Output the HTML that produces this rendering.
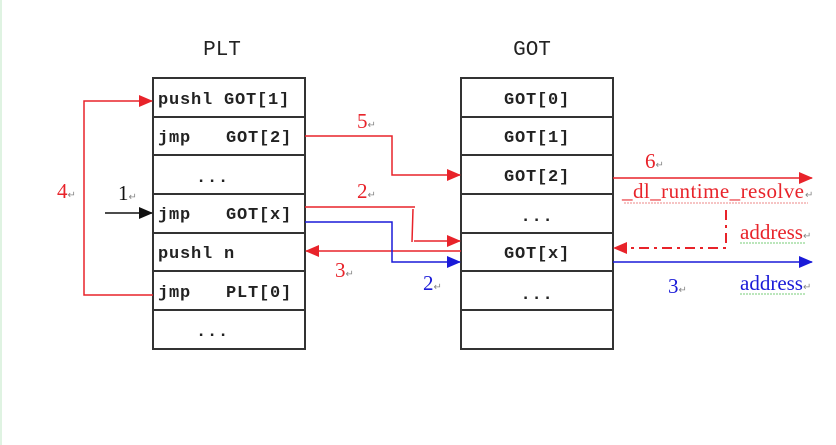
<!DOCTYPE html>
<html><head><meta charset="utf-8"><style>
html,body{margin:0;padding:0;background:#fff;width:836px;height:445px;overflow:hidden}
svg{display:block}
.c{font-family:"Liberation Mono",monospace;font-weight:bold;font-size:17px;letter-spacing:0.8px;fill:#222}
.t{font-family:"Liberation Mono",monospace;font-size:21px;fill:#222}
.s{font-family:"Liberation Serif",serif;font-size:21px}
.r{fill:#e8232a}.b{fill:#1a1ad8}.k{fill:#111}
.m{font-family:"Liberation Serif",serif;font-size:10px;fill:#888}
</style></head><body>
<svg width="836" height="445" viewBox="0 0 836 445">
<rect x="0" y="0" width="2" height="445" fill="#dff3e2"/>
<defs>
<marker id="ar" markerWidth="14" markerHeight="12" refX="13" refY="6" orient="auto" markerUnits="userSpaceOnUse"><path d="M0,0 L14,6 L0,12 z" fill="#e8232a"/></marker>
<marker id="ab" markerWidth="14" markerHeight="12" refX="13" refY="6" orient="auto" markerUnits="userSpaceOnUse"><path d="M0,0 L14,6 L0,12 z" fill="#1a1ad8"/></marker>
<marker id="ak" markerWidth="14" markerHeight="12" refX="13" refY="6" orient="auto" markerUnits="userSpaceOnUse"><path d="M0,0 L14,6 L0,12 z" fill="#111"/></marker>
</defs>
<text x="222" y="55" class="t" text-anchor="middle">PLT</text>
<text x="532" y="55" class="t" text-anchor="middle">GOT</text>
<g stroke="#333" stroke-width="2" fill="none">
<rect x="153" y="78" width="152" height="271"/>
<rect x="461" y="78" width="152" height="271"/>
<path d="M153,117H305M153,155H305M153,194H305M153,233H305M153,271H305M153,310H305"/>
<path d="M461,117H613M461,155H613M461,194H613M461,233H613M461,271H613M461,310H613"/>
</g>
<g class="c">
<text x="158" y="104">pushl GOT[1]</text>
<text x="158" y="142">jmp</text><text x="226" y="142">GOT[2]</text>
<text x="196" y="182">...</text>
<text x="158" y="219">jmp</text><text x="226" y="219">GOT[x]</text>
<text x="158" y="258">pushl n</text>
<text x="158" y="297">jmp</text><text x="226" y="297">PLT[0]</text>
<text x="196" y="336">...</text>
<text x="537" y="104" text-anchor="middle">GOT[0]</text>
<text x="537" y="142" text-anchor="middle">GOT[1]</text>
<text x="537" y="181" text-anchor="middle">GOT[2]</text>
<text x="537" y="221" text-anchor="middle">...</text>
<text x="537" y="258" text-anchor="middle">GOT[x]</text>
<text x="537" y="299" text-anchor="middle">...</text>
</g>
<g fill="none" stroke-width="1.5">
<path d="M153,295H84V101H152" stroke="#e8232a" marker-end="url(#ar)"/>
<path d="M105,213H152" stroke="#111" marker-end="url(#ak)"/>
<path d="M305,136H392V175H460" stroke="#e8232a" marker-end="url(#ar)"/>
<path d="M305,207H415M413,209L412,242M414,241H460" stroke="#e8232a" marker-end="url(#ar)"/>
<path d="M461,251H306" stroke="#e8232a" marker-end="url(#ar)"/>
<path d="M305,222H392V262H460" stroke="#1a1ad8" marker-end="url(#ab)"/>
<path d="M613,178H812" stroke="#e8232a" marker-end="url(#ar)"/>
<path d="M726,210V248H614" stroke="#e8232a" stroke-width="2" stroke-dasharray="10,5,3,5" marker-end="url(#ar)"/>
<path d="M613,262H812" stroke="#1a1ad8" marker-end="url(#ab)"/>
</g>
<text x="57" y="198" class="s r">4<tspan class="m">↵</tspan></text>
<text x="118" y="200" class="s k">1<tspan class="m">↵</tspan></text>
<text x="357" y="128" class="s r">5<tspan class="m">↵</tspan></text>
<text x="357" y="198" class="s r">2<tspan class="m">↵</tspan></text>
<text x="335" y="277" class="s r">3<tspan class="m">↵</tspan></text>
<text x="423" y="290" class="s b">2<tspan class="m">↵</tspan></text>
<text x="645" y="168" class="s r">6<tspan class="m">↵</tspan></text>
<text x="622" y="198" class="s r" textLength="182">_dl_runtime_resolve</text><text x="805" y="198" class="m">↵</text>
<text x="740" y="239" class="s r">address<tspan class="m">↵</tspan></text>
<text x="668" y="293" class="s b">3<tspan class="m">↵</tspan></text>
<text x="740" y="290" class="s b">address<tspan class="m">↵</tspan></text>
<g stroke-width="1" fill="none" stroke-dasharray="2,1">
<path d="M624,203H808" stroke="#e88"/>
<path d="M740,243H806" stroke="#7c7"/>
<path d="M740,294H806" stroke="#7c7"/>
</g>
</svg>
</body></html>
